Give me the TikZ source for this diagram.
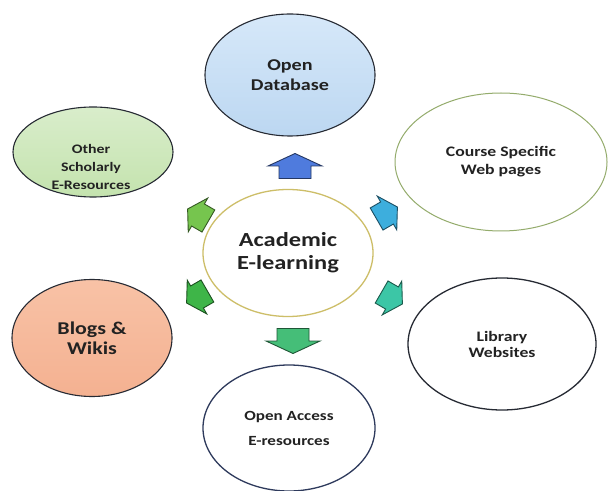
\documentclass[tikz,border=0pt]{standalone}
\usepackage{fontspec}
\setmainfont{Carlito}[FakeStretch=1.22]
\usetikzlibrary{shapes.geometric,calc}
\definecolor{txtc}{HTML}{222222}
\definecolor{dbfillA}{HTML}{D6E8F9}
\definecolor{dbfillB}{HTML}{BCD7F1}
\definecolor{grfillA}{HTML}{D9EDCB}
\definecolor{grfillB}{HTML}{C4E3AE}
\definecolor{safillA}{HTML}{F8C2A6}
\definecolor{safillB}{HTML}{F4B191}
\definecolor{acadborder}{HTML}{CDBE68}
\definecolor{courseborder}{HTML}{94AC6C}
\definecolor{oaborder}{HTML}{2E3A5C}
\definecolor{darkb}{HTML}{262a33}
\definecolor{arUp}{HTML}{4F7BDD}
\definecolor{arNE}{HTML}{3DAEDD}
\definecolor{arSE}{HTML}{3CC6A6}
\definecolor{arDn}{HTML}{45BE78}
\definecolor{arSW}{HTML}{3EB548}
\definecolor{arNW}{HTML}{76C54E}
\tikzset{
  ell/.style={ellipse, inner sep=0pt, line width=1.1pt, text=txtc, align=center},
  txt/.style={text=txtc, align=center, inner sep=0pt},
  barrow/.style={line width=0.9pt, line join=miter},
}
% straight block arrow: #1 name, #2 position, #3 angle, #4 colour
\newcommand{\blockarr}[4]{%
  \begin{scope}[shift={#2}, rotate=#3]
    \coordinate (#1) at (0,0);
    \draw[barrow, fill=#4, draw=#4!45!black]
      (-12.5,-16) -- (0,-16) -- (0,-27) -- (12.5,0) -- (0,27) -- (0,16) -- (-12.5,16) -- cycle;
  \end{scope}}
% diagonal (chunkier) block arrow
\newcommand{\diagarr}[4]{%
  \begin{scope}[shift={#2}, rotate=#3, scale=0.75]
    \coordinate (#1) at (0,0);
    \draw[barrow, fill=#4, draw=#4!45!black]
      (-16,-17) -- (0,-17) -- (0,-26) -- (16,0) -- (0,26) -- (0,17) -- (-16,17) -- cycle;
  \end{scope}}
\begin{document}
\begin{tikzpicture}[x=1pt,y=1pt]
\useasboundingbox (0,0) rectangle (609,490);
\fill[white] (0,0) rectangle (609,490);
% ellipses
\node[ell, minimum width=170, minimum height=122, draw=darkb, top color=dbfillA, bottom color=dbfillB,
      font=\bfseries\fontsize{16.5}{20}\selectfont] (db) at (290,415) {Open\\Database};
\node[ell, minimum width=212, minimum height=138, draw=courseborder, line width=1pt, fill=white,
      font=\bfseries\fontsize{14.5}{18}\selectfont] (course) at (501,328) {Course Specific\\Web pages};
\node[ell, minimum width=160, minimum height=90, draw=darkb, top color=grfillA, bottom color=grfillB] (other) at (93,338) {};
\node[txt, font=\bfseries\fontsize{13}{18}\selectfont] (othert) at (91,323) {Other\\Scholarly\\E-Resources};
\node[ell, minimum width=170, minimum height=127, draw=acadborder, line width=1.3pt, fill=white,
      font=\bfseries\fontsize{20}{23}\selectfont] (acad) at (288,237) {Academic\\E-learning};
\node[ell, minimum width=160, minimum height=117, draw=darkb, top color=safillA, bottom color=safillB,
      font=\bfseries\fontsize{18}{20}\selectfont] (blogs) at (92,152) {Blogs \&\\Wikis};
\node[ell, minimum width=188, minimum height=132, draw=darkb, line width=1.3pt, fill=white,
      font=\bfseries\fontsize{14.5}{16}\selectfont] (lib) at (502,146) {Library\\Websites};
\node[ell, minimum width=172, minimum height=126, draw=oaborder, line width=1.3pt, fill=white,
      font=\bfseries\fontsize{14}{25}\selectfont] (oa) at (289,62) {Open Access\\E-resources};
% block arrows
\blockarr{aUp}{(295,324)}{90}{arUp}
\blockarr{aDn}{(293,149)}{-90}{arDn}
\diagarr{aNE}{(387,277)}{30}{arNE}
\diagarr{aNW}{(198,275)}{150}{arNW}
\diagarr{aSW}{(197,193)}{210}{arSW}
\diagarr{aSE}{(392,192)}{-30}{arSE}
\end{tikzpicture}
\end{document}
